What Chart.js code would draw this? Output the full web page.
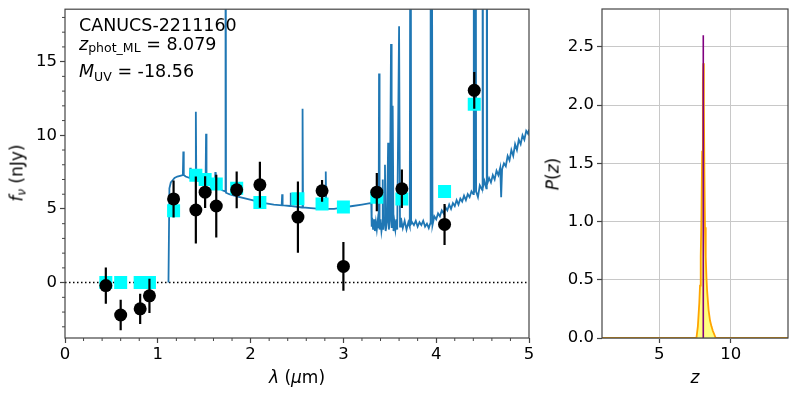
<!DOCTYPE html>
<html>
<head>
<meta charset="utf-8">
<script src="https://cdn.jsdelivr.net/npm/chart.js@4.4.1/dist/chart.umd.min.js"></script>
<style>
  body { margin: 0; background: #fff; width: 797px; height: 399px; overflow: hidden; position: relative; font-family: 'DejaVu Sans', sans-serif; color: #000; }
  canvas { position: absolute; top: 0; }
  #sedChart { left: 0; }
  #pzChart { left: 545px; }
  .lbl { position: absolute; font-size: 17.5px; line-height: 17.5px; white-space: nowrap; }
  .sub { font-size: 12.5px; position: relative; }
  .axt { position: absolute; font-size: 17px; line-height: 17px; white-space: nowrap; }
  .rot { transform: translate(-50%, -50%) rotate(-90deg); }
  .ctr { transform: translateX(-50%); }
</style>
</head>
<body>
<canvas id="sedChart" width="545" height="399"></canvas>
<canvas id="pzChart" width="252" height="399"></canvas>

<div class="lbl" style="left:79px; top:17px">CANUCS-2211160</div>
<div class="lbl" style="left:79px; top:36px"><i>z</i><span class="sub" style="top:2px">phot_ML</span> = 8.079</div>
<div class="lbl" style="left:79px; top:63px"><i>M</i><span class="sub" style="top:4px">UV</span> = -18.56</div>

<div class="axt ctr" style="left:297px; top:369px"><i>λ</i> (<i>μ</i>m)</div>
<div class="axt rot" style="left:18px; top:173px"><i>f</i><span class="sub" style="font-size:12px; top:3px"><i>ν</i></span> (nJy)</div>
<div class="axt ctr" style="left:695px; top:369px"><i>z</i></div>
<div class="axt rot" style="left:553px; top:174px"><i>P</i>(<i>z</i>)</div>

<script>
// photometry (um, nJy)
const photLam = [0.44, 0.60, 0.81, 0.91, 1.17, 1.41, 1.51, 1.63, 1.85, 2.10, 2.51, 2.77, 3.00, 3.36, 3.63, 4.09, 4.41];
const photFlux = [-0.2, -2.2, -1.78, -0.9, 5.68, 4.93, 6.14, 5.2, 6.3, 6.64, 4.45, 6.23, 1.1, 6.14, 6.37, 3.95, 13.05];
const photErr = [1.23, 1.03, 1.03, 1.16, 1.26, 2.28, 1.08, 2.13, 1.25, 1.56, 2.42, 0.74, 1.65, 1.3, 1.31, 1.39, 1.25];
// model photometry
const modelFlux = [0.0, 0.0, 0.0, 0.0, 4.88, 7.28, 7.0, 6.7, 6.4, 5.44, 5.7, 5.34, 5.14, 5.8, 5.68, 6.19, 12.1];

// best fit template
const specLam = [
  1.115, 1.125, 1.14, 1.16, 1.18, 1.21, 1.24, 1.27, 1.275, 1.28,
  1.30, 1.345, 1.35, 1.355, 1.38, 1.405, 1.41, 1.415, 1.45, 1.48,
  1.515, 1.52, 1.525, 1.56, 1.60, 1.615, 1.62, 1.625, 1.66, 1.70,
  1.725, 1.73, 1.735, 1.77, 1.85, 1.95, 2.05, 2.15, 2.25, 2.335,
  2.34, 2.345, 2.425, 2.43, 2.435, 2.50, 2.555, 2.56, 2.565, 2.65,
  2.75, 2.805, 2.81, 2.815, 2.90, 3.00, 3.10, 3.20, 3.29, 3.30,
  3.305, 3.31, 3.32, 3.33, 3.34, 3.35, 3.36, 3.37, 3.38, 3.384,
  3.39, 3.40, 3.41, 3.42, 3.424, 3.43, 3.44, 3.448, 3.455, 3.47,
  3.482, 3.49, 3.50, 3.513, 3.52, 3.531, 3.54, 3.55, 3.56, 3.57,
  3.58, 3.60, 3.61, 3.62, 3.64, 3.66, 3.68, 3.70, 3.715, 3.724,
  3.73, 3.74, 3.76, 3.78, 3.80, 3.82, 3.84, 3.86, 3.88, 3.90,
  3.92, 3.935, 3.94, 3.95, 3.96, 3.98, 4.00, 4.02, 4.04, 4.06,
  4.08, 4.10, 4.12, 4.14, 4.16, 4.18, 4.20, 4.22, 4.24, 4.26,
  4.28, 4.30, 4.32, 4.34, 4.36, 4.38, 4.40, 4.405, 4.41, 4.425,
  4.43, 4.45, 4.47, 4.495, 4.50, 4.505, 4.52, 4.54, 4.545, 4.55,
  4.57, 4.59, 4.61, 4.63, 4.65, 4.67, 4.69, 4.70, 4.71, 4.73,
  4.75, 4.77, 4.79, 4.81, 4.83, 4.85, 4.87, 4.89, 4.91, 4.93,
  4.95, 4.97, 4.99, 5.00
];
const specFlux = [
  0, 6.4, 6.8, 6.95, 7.1, 7.2, 7.25, 7.3, 8.9, 7.3,
  7.2, 7.1, 7.8, 7.1, 7.0, 7.0, 11.6, 6.95, 6.9, 6.85,
  6.8, 10.1, 6.8, 6.7, 6.55, 6.5, 7.5, 6.5, 6.4, 6.25,
  6.2, 40, 6.1, 6.0, 5.85, 5.7, 5.55, 5.4, 5.3, 5.25,
  6.0, 5.25, 5.2, 6.1, 5.2, 5.15, 5.1, 11.8, 5.1, 5.05,
  5.0, 5.0, 7.55, 5.0, 5.0, 5.1, 5.2, 5.3, 5.4, 5.4,
  3.8, 4.4, 3.6, 4.3, 3.5, 4.1, 3.6, 4.2, 3.7, 14.2,
  3.6, 4.3, 3.5, 4.0, 7.0, 3.6, 4.2, 8.0, 3.5, 4.1,
  9.5, 3.6, 4.2, 16.2, 3.7, 12.0, 3.5, 4.1, 3.6, 4.3,
  3.6, 17.4, 3.8, 4.4, 3.7, 4.2, 3.6, 4.1, 3.8, 40,
  4.0, 4.1, 3.9, 4.2, 3.8, 4.1, 3.9, 4.2, 3.8, 4.0,
  3.7, 4.0, 40, 40, 3.9, 4.5, 4.3, 4.7, 4.5, 4.9,
  4.7, 5.1, 4.9, 5.3, 5.0, 5.4, 5.2, 5.6, 5.3, 5.7,
  5.5, 5.9, 5.6, 6.0, 5.8, 6.2, 6.0, 40, 6.1, 40,
  6.2, 5.8, 6.6, 6.3, 40, 6.5, 6.9, 6.4, 40, 6.7,
  7.1, 6.8, 7.3, 7.0, 7.6, 7.3, 7.8, 5.8, 7.7, 8.1,
  7.9, 8.6, 8.3, 9.0, 8.6, 9.4, 9.0, 9.7, 9.4, 10.0,
  9.7, 10.3, 10.1, 10.4
];

// P(z)
const pzZ = [1.0, 7.6, 7.7, 7.8, 7.85, 7.9, 7.95, 8.0, 8.05, 8.08, 8.12, 8.16, 8.2, 8.25, 8.3, 8.35, 8.45, 8.55, 8.65, 8.75, 8.85, 8.95, 14.0];
const pzP = [0, 0, 0.1, 0.3, 0.45, 0.7, 1.05, 1.6, 2.2, 2.36, 2.0, 1.4, 0.95, 0.7, 0.52, 0.4, 0.24, 0.15, 0.1, 0.06, 0.03, 0, 0];
const zPhot = 8.079;
const zPeakP = 2.6;

// ticks
const sedXMajor = [0, 1, 2, 3, 4, 5];
const sedXMinor = [0.2, 0.4, 0.6, 0.8, 1.2, 1.4, 1.6, 1.8, 2.2, 2.4, 2.6, 2.8, 3.2, 3.4, 3.6, 3.8, 4.2, 4.4, 4.6, 4.8];
const sedYMajor = [0, 5, 10, 15];
const sedYMinor = [-3, -2, -1, 1, 2, 3, 4, 6, 7, 8, 9, 11, 12, 13, 14, 16, 17, 18];
const pzXTicks = [5, 10];
const pzYTicks = [0, 0.5, 1.0, 1.5, 2.0, 2.5];

const spineColor = '#444';
const tickFont = { family: 'DejaVu Sans', size: 16.5 };

const frame = {
  id: 'frame',
  afterDraw(chart) {
    const { ctx, chartArea: a } = chart;
    ctx.save();
    ctx.strokeStyle = spineColor;
    ctx.lineWidth = 1.2;
    ctx.strokeRect(a.left, a.top, a.right - a.left, a.bottom - a.top);
    ctx.restore();
  }
};

const minorTicks = {
  id: 'minorTicks',
  afterDraw(chart, args, opts) {
    const { ctx, chartArea: a, scales } = chart;
    ctx.save();
    ctx.strokeStyle = spineColor;
    ctx.lineWidth = 1;
    ctx.beginPath();
    (opts.x || []).forEach(v => {
      const px = scales.x.getPixelForValue(v);
      ctx.moveTo(px, a.bottom); ctx.lineTo(px, a.bottom + 3);
    });
    (opts.y || []).forEach(v => {
      const py = scales.y.getPixelForValue(v);
      ctx.moveTo(a.left, py); ctx.lineTo(a.left - 3, py);
    });
    ctx.stroke();
    ctx.restore();
  }
};

// fixed axis boxes, no label overflow padding
function fitX(s) { s.height = 61; s.paddingLeft = 0; s.paddingRight = 0; s.paddingTop = 0; s.paddingBottom = 0; }
function fitY(w) {
  return s => { s.width = w; s.paddingLeft = 0; s.paddingRight = 0; s.paddingTop = 0; s.paddingBottom = 0; };
}

// error bars as broken line segments
let errData = [];
for (let i = 0; i < photLam.length; i++) {
  errData.push({ x: photLam[i], y: photFlux[i] - photErr[i] });
  errData.push({ x: photLam[i], y: photFlux[i] + photErr[i] });
  errData.push({ x: photLam[i], y: null });
}

new Chart(document.getElementById('sedChart'), {
  type: 'scatter',
  data: {
    datasets: [
      {
        label: 'observed',
        data: photLam.map((x, i) => ({ x: x, y: photFlux[i] })),
        pointRadius: 6.5,
        pointBackgroundColor: '#000',
        pointBorderColor: '#000',
        pointBorderWidth: 0,
        order: 0
      },
      {
        label: 'errors',
        type: 'line',
        data: errData,
        borderColor: '#000',
        borderWidth: 2.2,
        pointRadius: 0,
        spanGaps: false,
        order: 1
      },
      {
        label: 'model phot',
        data: photLam.map((x, i) => ({ x: x, y: modelFlux[i] })),
        pointStyle: 'rect',
        pointRadius: 9.2,
        pointBackgroundColor: '#00ffff',
        pointBorderWidth: 0,
        order: 2
      },
      {
        label: 'template',
        type: 'line',
        data: specLam.map((x, i) => ({ x: x, y: specFlux[i] })),
        borderColor: '#1f77b4',
        borderWidth: 1.8,
        pointRadius: 0,
        tension: 0,
        order: 3
      },
      {
        label: 'zero',
        type: 'line',
        data: [{ x: 0, y: 0 }, { x: 5, y: 0 }],
        borderColor: '#000',
        borderWidth: 1.5,
        borderDash: [1.5, 2.5],
        pointRadius: 0,
        order: 4
      }
    ]
  },
  options: {
    responsive: false,
    animation: false,
    layout: { padding: { left: 0, right: 16, top: 9, bottom: 0 } },
    plugins: {
      legend: { display: false },
      tooltip: { enabled: false },
      minorTicks: { x: sedXMinor, y: sedYMinor }
    },
    scales: {
      x: {
        type: 'linear', min: 0, max: 5,
        afterBuildTicks: s => { s.ticks = sedXMajor.map(v => ({ value: v })); },
        afterFit: fitX,
        ticks: { autoSkip: false, maxRotation: 0, font: tickFont, color: '#000', padding: 2, callback: v => String(v) },
        grid: { drawOnChartArea: false, tickLength: 5, tickColor: spineColor, tickWidth: 1.2 },
        border: { display: false }
      },
      y: {
        type: 'linear', min: -3.76, max: 18.56,
        afterBuildTicks: s => { s.ticks = sedYMajor.map(v => ({ value: v })); },
        afterFit: fitY(65),
        ticks: { autoSkip: false, font: tickFont, color: '#000', padding: 3, callback: v => String(v) },
        grid: { drawOnChartArea: false, tickLength: 5, tickColor: spineColor, tickWidth: 1.2 },
        border: { display: false }
      }
    }
  },
  plugins: [frame, minorTicks]
});

new Chart(document.getElementById('pzChart'), {
  type: 'line',
  data: {
    datasets: [
      {
        label: 'P(z)',
        data: pzZ.map((x, i) => ({ x: x, y: pzP[i] })),
        borderColor: 'orange',
        borderWidth: 1.8,
        pointRadius: 0,
        fill: 'origin',
        backgroundColor: 'rgba(255,255,0,0.5)',
        order: 1
      },
      {
        label: 'zphot',
        data: [{ x: zPhot, y: 0 }, { x: zPhot, y: zPeakP }],
        borderColor: 'purple',
        borderWidth: 1.6,
        pointRadius: 0,
        order: 0
      }
    ]
  },
  options: {
    responsive: false,
    animation: false,
    layout: { padding: { left: 0, right: 9, top: 9, bottom: 0 } },
    plugins: { legend: { display: false }, tooltip: { enabled: false } },
    scales: {
      x: {
        type: 'linear', min: 1, max: 14,
        afterBuildTicks: s => { s.ticks = pzXTicks.map(v => ({ value: v })); },
        afterFit: fitX,
        ticks: { autoSkip: false, maxRotation: 0, font: tickFont, color: '#000', padding: 2, callback: v => String(v) },
        grid: { color: '#c8c8c8', lineWidth: 1, tickLength: 5, tickColor: spineColor, tickWidth: 1.2 },
        border: { display: false }
      },
      y: {
        type: 'linear', min: 0, max: 2.825,
        afterBuildTicks: s => { s.ticks = pzYTicks.map(v => ({ value: v })); },
        afterFit: fitY(57),
        ticks: { autoSkip: false, font: tickFont, color: '#000', padding: 3, callback: v => v.toFixed(1) },
        grid: { color: '#c8c8c8', lineWidth: 1, tickLength: 5, tickColor: spineColor, tickWidth: 1.2 },
        border: { display: false }
      }
    }
  },
  plugins: [frame]
});
</script>
</body>
</html>
